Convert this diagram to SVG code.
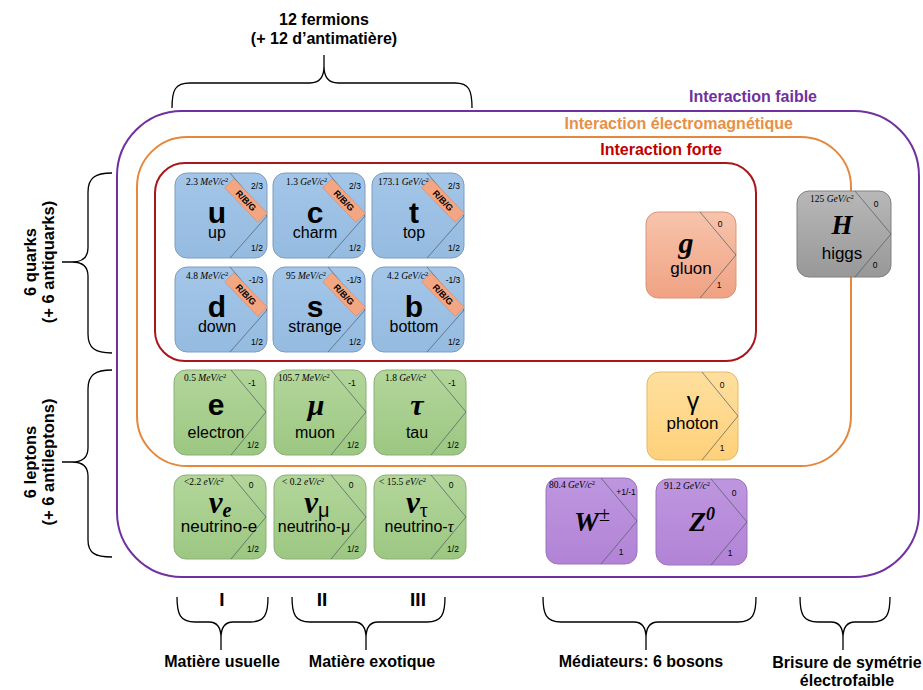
<svg xmlns="http://www.w3.org/2000/svg" width="923" height="690" viewBox="0 0 923 690">
<defs>
<linearGradient id="gBlue" x1="0" y1="0" x2="0" y2="1"><stop offset="0" stop-color="#a3c6e8"/><stop offset="1" stop-color="#95bbe0"/></linearGradient>
<linearGradient id="gGreen" x1="0" y1="0" x2="0" y2="1"><stop offset="0" stop-color="#b3d69b"/><stop offset="1" stop-color="#9cc782"/></linearGradient>
<linearGradient id="gSalmon" x1="0" y1="0" x2="0" y2="1"><stop offset="0" stop-color="#f7c4ac"/><stop offset="1" stop-color="#f0a283"/></linearGradient>
<linearGradient id="gYellow" x1="0" y1="0" x2="0" y2="1"><stop offset="0" stop-color="#ffdf9e"/><stop offset="1" stop-color="#fed17a"/></linearGradient>
<linearGradient id="gPurple" x1="0" y1="0" x2="0" y2="1"><stop offset="0" stop-color="#be96df"/><stop offset="1" stop-color="#b283d6"/></linearGradient>
<linearGradient id="gGrey" x1="0" y1="0" x2="0" y2="1"><stop offset="0" stop-color="#b8b8b8"/><stop offset="1" stop-color="#989898"/></linearGradient>
</defs>
<style>
.sans{font-family:"Liberation Sans",Arial,sans-serif}
.lbl{font-family:"Liberation Sans",Arial,sans-serif;font-weight:bold;fill:#000}
.card{stroke-width:1}
.quark{fill:url(#gBlue);stroke:#7f9cbf}
.lepton{fill:url(#gGreen);stroke:#8caf76}
.gluon{fill:url(#gSalmon);stroke:#d9957a}
.photon{fill:url(#gYellow);stroke:#e3b968}
.wz{fill:url(#gPurple);stroke:#9a74bb}
.higgs{fill:url(#gGrey);stroke:#808080}
.chev{fill:none;stroke:#4d5a66;stroke-width:0.7}
.band{fill:#f4a582;stroke:#d98a6a;stroke-width:0.6}
.rbg{font-family:"Liberation Sans",Arial,sans-serif;font-weight:bold;font-size:9px;text-anchor:middle;fill:#000}
.mass{font-family:"Liberation Serif","DejaVu Serif",serif;font-size:9.5px;fill:#000}
.it{font-style:italic}
.sup{font-size:6.5px}
.q{font-family:"Liberation Sans",Arial,sans-serif;font-size:8.5px;text-anchor:middle;fill:#000}
.big{font-family:"Liberation Sans",Arial,sans-serif;font-weight:bold;font-size:30px;text-anchor:middle;fill:#000}
.bigm{font-family:"Liberation Serif","DejaVu Serif",serif;font-weight:bold;font-style:italic;text-anchor:middle;fill:#000}
.name{font-family:"Liberation Sans",Arial,sans-serif;font-size:16px;text-anchor:middle;fill:#000}
.bname{font-family:"Liberation Sans",Arial,sans-serif;font-size:17px;text-anchor:middle;fill:#000}
.brace{fill:none;stroke:#000;stroke-width:1.3}
.box{fill:none;stroke-width:2}
</style>

<g id="interactions">
<g id="faible"><rect class="box" x="117" y="111" width="802" height="466" rx="65" stroke="#7030a0"/>
<text class="sans" x="817" y="102" text-anchor="end" font-size="16" font-weight="bold" fill="#7030a0">Interaction faible</text></g>
<g id="electromagnetique"><rect class="box" x="137" y="137" width="714" height="329" rx="50" stroke="#e4883e"/>
<text class="sans" x="793" y="129" text-anchor="end" font-size="16" font-weight="bold" fill="#e88f45">Interaction électromagnétique</text></g>
<g id="forte"><rect class="box" x="155" y="163" width="601" height="198" rx="30" stroke="#a8161c"/>
<text class="sans" x="722" y="155" text-anchor="end" font-size="16" font-weight="bold" fill="#c00000">Interaction forte</text></g>
</g>

<g id="connectors">
<path class="brace" d="M172,108 C172,90 175,83 190,83 L310,83 C319,83 324,78 324,66 L324,55 M324,66 C324,78 329,83 338,83 L455,83 C469,83 472,90 472,108"/>
<path class="brace" d="M112,173 C95,173 88,178 88,192 L88,248 C88,257 83,262 72,262 L62,262 M72,262 C83,262 88,267 88,276 L88,334 C88,348 95,353 112,353"/>
<path class="brace" d="M112,370 C95,370 88,375 88,389 L88,448 C88,457 83,462 72,462 L62,462 M72,462 C83,462 88,467 88,476 L88,540 C88,553 95,557 112,557"/>
<path class="brace" d="M177,597 C177,614 180,622 195,622 L209,622 C217,622 221,628 221,638 L221,650 M221,638 C221,628 225,622 233,622 L250,622 C265,622 268,614 268,597"/>
<path class="brace" d="M292,597 C292,614 295,622 310,622 L354,622 C362,622 366,628 366,638 L366,650 M366,638 C366,628 370,622 378,622 L427,622 C442,622 445,614 445,597"/>
<path class="brace" d="M543,597 C543,614 546,622 561,622 L634,622 C642,622 646,628 646,638 L646,650 M646,638 C646,628 650,622 658,622 L738,622 C753,622 756,614 756,597"/>
<path class="brace" d="M800,597 C800,614 803,622 818,622 L831,622 C839,622 843,628 843,638 L843,650 M843,638 C843,628 847,622 855,622 L872,622 C887,622 890,614 890,597"/>
</g>

<g id="labels">
<text class="lbl" x="324" y="25" text-anchor="middle" font-size="16">12 fermions</text>
<text class="lbl" x="324" y="44" text-anchor="middle" font-size="16">(+ 12 d’antimatière)</text>
<text class="lbl" transform="translate(36,262) rotate(-90)" text-anchor="middle" font-size="16.5">6 quarks</text>
<text class="lbl" transform="translate(54,262) rotate(-90)" text-anchor="middle" font-size="16.5">(+ 6 antiquarks)</text>
<text class="lbl" transform="translate(36,462) rotate(-90)" text-anchor="middle" font-size="16.5">6 leptons</text>
<text class="lbl" transform="translate(54,462) rotate(-90)" text-anchor="middle" font-size="16.5">(+ 6 antileptons)</text>
<text class="lbl" x="222" y="606" text-anchor="middle" font-size="19">I</text>
<text class="lbl" x="322" y="606" text-anchor="middle" font-size="19">II</text>
<text class="lbl" x="418" y="606" text-anchor="middle" font-size="19">III</text>
<text class="lbl" x="222" y="667" text-anchor="middle" font-size="16">Matière usuelle</text>
<text class="lbl" x="372" y="667" text-anchor="middle" font-size="16">Matière exotique</text>
<text class="lbl" x="641" y="667" text-anchor="middle" font-size="16">Médiateurs: 6 bosons</text>
<text class="lbl" x="847" y="668" text-anchor="middle" font-size="16">Brisure de symétrie</text>
<text class="lbl" x="847" y="686" text-anchor="middle" font-size="16">électrofaible</text>
</g>

<!-- Quarks -->
<g id="up" transform="translate(175,173)">
<rect class="card quark" width="92" height="85" rx="12"/>
<path class="chev" d="M55,0 L92,43 L55,85"/>
<g transform="translate(71,27.5) rotate(46)"><rect class="band" x="-24" y="-6.5" width="48" height="13"/><text class="rbg" y="3.2">R/B/G</text></g>
<text class="mass" x="11" y="12">2.3 <tspan class="it">MeV/c</tspan><tspan class="sup" dy="-3">2</tspan></text>
<text class="q" x="82" y="16">2/3</text>
<text class="q" x="82" y="78">1/2</text>
<text class="big" x="42" y="50">u</text>
<text class="name" x="42" y="65">up</text>
</g>
<g id="charm" transform="translate(273,173)">
<rect class="card quark" width="92" height="85" rx="12"/>
<path class="chev" d="M55,0 L92,43 L55,85"/>
<g transform="translate(71,27.5) rotate(46)"><rect class="band" x="-24" y="-6.5" width="48" height="13"/><text class="rbg" y="3.2">R/B/G</text></g>
<text class="mass" x="13" y="12">1.3 <tspan class="it">GeV/c</tspan><tspan class="sup" dy="-3">2</tspan></text>
<text class="q" x="82" y="16">2/3</text>
<text class="q" x="82" y="78">1/2</text>
<text class="big" x="42" y="50">c</text>
<text class="name" x="42" y="65">charm</text>
</g>
<g id="top" transform="translate(372,173)">
<rect class="card quark" width="92" height="85" rx="12"/>
<path class="chev" d="M55,0 L92,43 L55,85"/>
<g transform="translate(71,27.5) rotate(46)"><rect class="band" x="-24" y="-6.5" width="48" height="13"/><text class="rbg" y="3.2">R/B/G</text></g>
<text class="mass" x="6" y="12">173.1 <tspan class="it">GeV/c</tspan><tspan class="sup" dy="-3">2</tspan></text>
<text class="q" x="82" y="16">2/3</text>
<text class="q" x="82" y="78">1/2</text>
<text class="big" x="42" y="50">t</text>
<text class="name" x="42" y="65">top</text>
</g>
<g id="down" transform="translate(175,267)">
<rect class="card quark" width="92" height="85" rx="12"/>
<path class="chev" d="M55,0 L92,43 L55,85"/>
<g transform="translate(71,27.5) rotate(46)"><rect class="band" x="-24" y="-6.5" width="48" height="13"/><text class="rbg" y="3.2">R/B/G</text></g>
<text class="mass" x="11" y="12">4.8 <tspan class="it">MeV/c</tspan><tspan class="sup" dy="-3">2</tspan></text>
<text class="q" x="81" y="16">-1/3</text>
<text class="q" x="82" y="78">1/2</text>
<text class="big" x="42" y="50">d</text>
<text class="name" x="42" y="65">down</text>
</g>
<g id="strange" transform="translate(273,267)">
<rect class="card quark" width="92" height="85" rx="12"/>
<path class="chev" d="M55,0 L92,43 L55,85"/>
<g transform="translate(71,27.5) rotate(46)"><rect class="band" x="-24" y="-6.5" width="48" height="13"/><text class="rbg" y="3.2">R/B/G</text></g>
<text class="mass" x="13" y="12">95 <tspan class="it">MeV/c</tspan><tspan class="sup" dy="-3">2</tspan></text>
<text class="q" x="81" y="16">-1/3</text>
<text class="q" x="82" y="78">1/2</text>
<text class="big" x="42" y="50">s</text>
<text class="name" x="42" y="65">strange</text>
</g>
<g id="bottom" transform="translate(372,267)">
<rect class="card quark" width="92" height="85" rx="12"/>
<path class="chev" d="M55,0 L92,43 L55,85"/>
<g transform="translate(71,27.5) rotate(46)"><rect class="band" x="-24" y="-6.5" width="48" height="13"/><text class="rbg" y="3.2">R/B/G</text></g>
<text class="mass" x="15" y="12">4.2 <tspan class="it">GeV/c</tspan><tspan class="sup" dy="-3">2</tspan></text>
<text class="q" x="81" y="16">-1/3</text>
<text class="q" x="82" y="78">1/2</text>
<text class="big" x="42" y="50">b</text>
<text class="name" x="42" y="65">bottom</text>
</g>

<!-- Leptons -->
<g id="electron" transform="translate(174,370)">
<rect class="card lepton" width="92" height="85" rx="12"/>
<path class="chev" d="M57,0 L92,42 L57,85"/>
<text class="mass" x="10" y="11">0.5 <tspan class="it">MeV/c</tspan><tspan class="sup" dy="-3">2</tspan></text>
<text class="q" x="78" y="16">-1</text>
<text class="q" x="79" y="78">1/2</text>
<text class="big" x="42" y="45">e</text>
<text class="name" x="42" y="68">electron</text>
</g>
<g id="muon" transform="translate(274,370)">
<rect class="card lepton" width="92" height="85" rx="12"/>
<path class="chev" d="M57,0 L92,42 L57,85"/>
<text class="mass" x="4" y="11">105.7 <tspan class="it">MeV/c</tspan><tspan class="sup" dy="-3">2</tspan></text>
<text class="q" x="78" y="16">-1</text>
<text class="q" x="79" y="78">1/2</text>
<text class="bigm" x="42" y="45" font-size="30">μ</text>
<text class="name" x="41" y="68">muon</text>
</g>
<g id="tau" transform="translate(374,370)">
<rect class="card lepton" width="92" height="85" rx="12"/>
<path class="chev" d="M57,0 L92,42 L57,85"/>
<text class="mass" x="11" y="11">1.8 <tspan class="it">GeV/c</tspan><tspan class="sup" dy="-3">2</tspan></text>
<text class="q" x="78" y="16">-1</text>
<text class="q" x="79" y="78">1/2</text>
<text class="bigm" x="43" y="45" font-size="30">τ</text>
<text class="name" x="43" y="68">tau</text>
</g>

<!-- Neutrinos -->
<g id="neutrino-e" transform="translate(174,475)">
<rect class="card lepton" width="92" height="84" rx="12"/>
<path class="chev" d="M57,0 L92,42 L57,84"/>
<text class="mass" x="10" y="10">&lt;2.2 <tspan class="it">eV/c</tspan><tspan class="sup" dy="-3">2</tspan></text>
<text class="q" x="77" y="13">0</text>
<text class="q" x="79" y="77">1/2</text>
<text class="bigm" x="46" y="38" font-size="31">ν<tspan font-size="20" dy="4">e</tspan></text>
<text class="name" x="45" y="57" style="font-size:17px">neutrino-e</text>
</g>
<g id="neutrino-mu" transform="translate(274,475)">
<rect class="card lepton" width="92" height="84" rx="12"/>
<path class="chev" d="M57,0 L92,42 L57,84"/>
<text class="mass" x="8" y="10">&lt; 0.2 <tspan class="it">eV/c</tspan><tspan class="sup" dy="-3">2</tspan></text>
<text class="q" x="77" y="13">0</text>
<text class="q" x="79" y="77">1/2</text>
<text class="bigm" x="43" y="38" font-size="31">ν<tspan font-size="20" dy="4" font-style="normal" font-weight="normal" font-family="Liberation Sans, Arial, sans-serif">μ</tspan></text>
<text class="name" x="40" y="57">neutrino-μ</text>
</g>
<g id="neutrino-tau" transform="translate(374,475)">
<rect class="card lepton" width="92" height="84" rx="12"/>
<path class="chev" d="M57,0 L92,42 L57,84"/>
<text class="mass" x="5" y="10">&lt; 15.5 <tspan class="it">eV/c</tspan><tspan class="sup" dy="-3">2</tspan></text>
<text class="q" x="77" y="13">0</text>
<text class="q" x="79" y="77">1/2</text>
<text class="bigm" x="43" y="38" font-size="31">ν<tspan font-size="20" dy="4" font-style="normal" font-weight="normal">τ</tspan></text>
<text class="name" x="45" y="57">neutrino-<tspan font-family="Liberation Serif, serif" font-style="italic">τ</tspan></text>
</g>

<!-- Bosons -->
<g id="gluon" transform="translate(646,212)">
<rect class="card gluon" width="90" height="86" rx="12"/>
<path class="chev" d="M54,0 L90,43 L54,86"/>
<text class="q" x="74" y="15">0</text>
<text class="q" x="73" y="76">1</text>
<text class="bigm" x="40" y="41" font-size="30">g</text>
<text class="bname" x="45" y="62">gluon</text>
</g>
<g id="photon" transform="translate(647,372)">
<rect class="card photon" width="91" height="88" rx="12"/>
<path class="chev" d="M55,0 L91,44 L55,88"/>
<text class="q" x="75" y="16">0</text>
<text class="q" x="75" y="79">1</text>
<text class="bname" x="46" y="38" style="font-size:25px">γ</text>
<text class="bname" x="45.5" y="57">photon</text>
</g>
<g id="higgs" transform="translate(797,191)">
<rect class="card higgs" width="94" height="86" rx="12"/>
<path class="chev" d="M58,0 L94,43 L58,86"/>
<text class="mass" x="13" y="11">125 <tspan class="it">GeV/c</tspan><tspan class="sup" dy="-3">2</tspan></text>
<text class="q" x="79" y="16">0</text>
<text class="q" x="78" y="77">0</text>
<text class="bigm" x="45" y="43" font-size="27">H</text>
<text class="bname" x="45" y="68">higgs</text>
</g>
<g id="W" transform="translate(546,478)">
<rect class="card wz" width="91" height="86" rx="12"/>
<path class="chev" d="M55,0 L91,43 L55,86"/>
<text class="mass" x="3" y="10">80.4 <tspan class="it">GeV/c</tspan><tspan class="sup" dy="-3">2</tspan></text>
<text class="q" x="80" y="17">+1/-1</text>
<text class="q" x="75" y="77">1</text>
<text class="bigm" x="46" y="53" font-size="28">W<tspan font-size="20" dy="-10" font-style="normal" font-weight="normal">±</tspan></text>
</g>
<g id="Z" transform="translate(656,479)">
<rect class="card wz" width="91" height="86" rx="12"/>
<path class="chev" d="M55,0 L91,43 L55,86"/>
<text class="mass" x="8" y="10">91.2 <tspan class="it">GeV/c</tspan><tspan class="sup" dy="-3">2</tspan></text>
<text class="q" x="78" y="17">0</text>
<text class="q" x="74" y="77">1</text>
<text class="bigm" x="46" y="52" font-size="28">Z<tspan font-size="18" dy="-11">0</tspan></text>
</g>
</svg>
